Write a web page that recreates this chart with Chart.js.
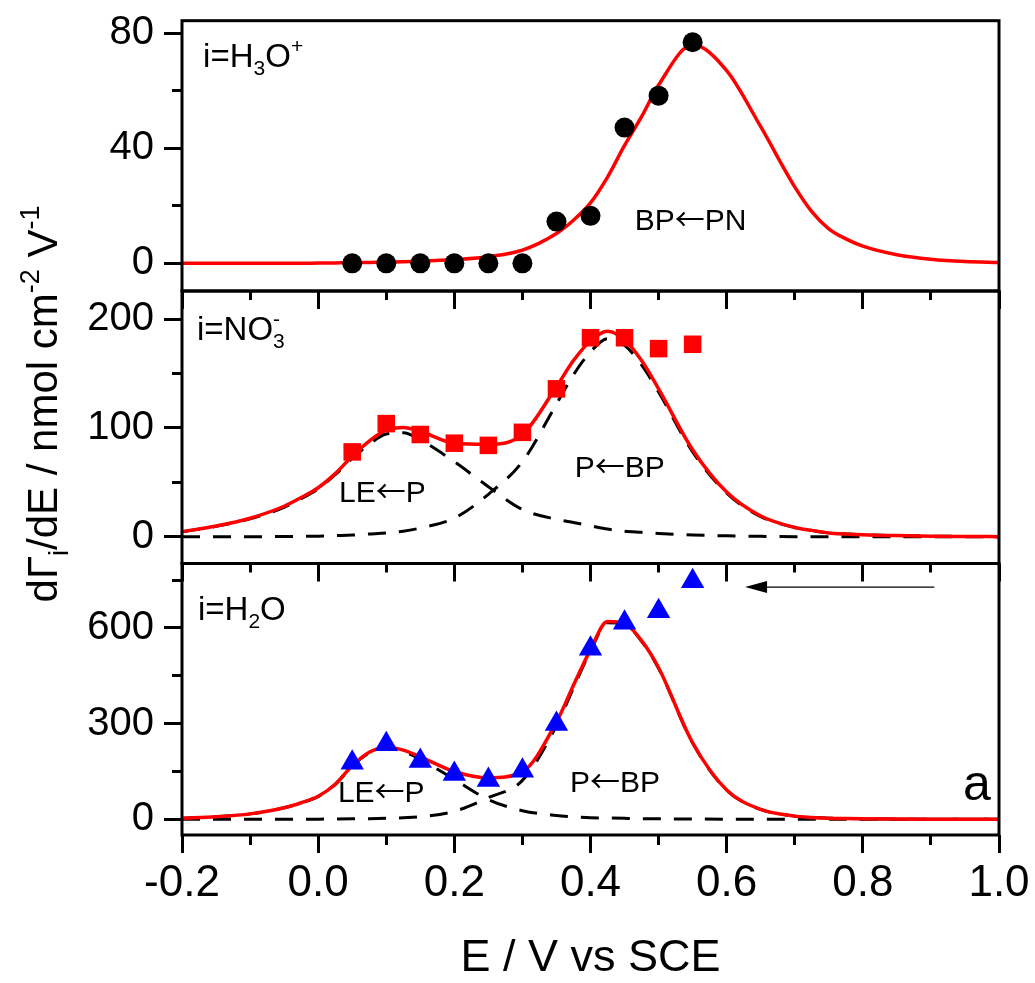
<!DOCTYPE html>
<html>
<head>
<meta charset="utf-8">
<script src="https://cdn.jsdelivr.net/npm/chart.js@4.4.1/dist/chart.umd.min.js"></script>
<style>
  body { margin: 0; background: #fff; }
  #wrap { position: relative; width: 1035px; height: 983px; }
  #wrap canvas { position: absolute; left: 0; top: 0; }
</style>
</head>
<body>
<div id="wrap">
  <canvas id="panelH3O" width="1035" height="983"></canvas>
  <canvas id="panelNO3" width="1035" height="983"></canvas>
  <canvas id="panelH2O" width="1035" height="983"></canvas>
</div>
<script>
// measured points, E / V vs SCE
const ePts   = [0.05, 0.10, 0.15, 0.20, 0.25, 0.30, 0.35, 0.40, 0.45, 0.50, 0.55];
const h3oPts = [0, 0, 0, 0, 0, 0, 14.5, 16.5, 47.2, 58.3, 76.9];
const no3Pts = [78, 104, 94, 86, 84, 96, 136, 183, 183, 173, 177];
const h2oPts = [177, 235, 183, 142, 123, 152, 299, 535, 616, 652, 746];

// fitted curves (sum = solid red, single contributions = dashed)
const eFit   = [-0.2, -0.15, -0.1, -0.05, -0.025, 0, 0.025, 0.05, 0.075, 0.1, 0.125, 0.15, 0.2, 0.25, 0.3, 0.35, 0.375, 0.4, 0.425, 0.45, 0.475, 0.5, 0.55, 0.6, 0.65, 0.7, 0.725, 0.75, 0.775, 0.8, 0.85, 0.9, 0.95, 1.0];
const h3oFit = [0, 0, 0, 0, 0, 0.1, 0.15, 0.2, 0.3, 0.4, 0.5, 0.7, 1.3, 2.3, 4.6, 10.4, 15, 21, 30, 41, 51, 62, 76, 67, 47.5, 26.6, 18, 12, 8.5, 6, 3, 1.4, 0.6, 0.3];
const no3Fit = [4.6, 9.8, 17, 28, 36, 45, 58, 74, 88, 98, 100.5, 97, 86, 85, 94, 138, 162, 180, 189, 181, 162, 136, 80, 41, 19, 8.5, 5.8, 3.5, 2.5, 1.8, 1, 0.5, 0.2, 0];
const no3LE  = [4.5, 9.5, 16.5, 27, 35, 44, 57, 72, 85, 94.5, 95.5, 89, 69, 46, 25, 16, 13, 10, 7, 5, 4, 3, 1.6, 0.8, 0.3, 0, 0, 0, 0, 0, 0, 0, 0, 0];
const no3P   = [0, 0, 0, 0.2, 0.3, 0.5, 1, 1.5, 2.5, 3.5, 5, 8, 17, 39, 69, 122, 149, 170, 182, 176, 158, 133, 78, 40, 18.5, 8.5, 5.8, 3.5, 2.5, 1.8, 1, 0.5, 0.2, 0];
const h2oFit = [3, 8, 17, 36, 52, 72, 110, 168, 210, 226, 217, 196, 150, 130, 149, 305, 420, 532, 620, 614, 560, 475, 240, 92, 31, 10, 6, 3.5, 2.2, 1.5, 0.8, 0.4, 0.2, 0];
const h2oLE  = [3, 8, 17, 36, 51, 71, 109, 166, 208, 223, 212, 188, 125, 62, 27, 12, 8, 5, 4, 3, 2, 1.5, 1, 0.5, 0.2, 0, 0, 0, 0, 0, 0, 0, 0, 0];
const h2oP   = [0, 0, 0, 0, 0.2, 0.5, 1, 1.5, 2, 3, 5, 8, 25, 68, 122, 293, 412, 527, 616, 611, 558, 473, 239, 91, 31, 10, 6, 3.5, 2.2, 1.5, 0.8, 0.4, 0.2, 0];

// axes
const xTicks      = [-0.2, -0.1, 0, 0.1, 0.2, 0.3, 0.4, 0.5, 0.6, 0.7, 0.8, 0.9, 1.0];
const xTickLabels = ['-0.2', '', '0.0', '', '0.2', '', '0.4', '', '0.6', '', '0.8', '', '1.0'];
const h3oTicks = [0, 20, 40, 60, 80];
const h3oTickLabels = ['0', '', '40', '', '80'];
const no3Ticks = [0, 50, 100, 150, 200];
const no3TickLabels = ['0', '', '100', '', '200'];
const h2oTicks = [0, 150, 300, 450, 600, 750];
const h2oTickLabels = ['0', '', '300', '', '600', ''];

const FONT = "'Liberation Sans', Arial, Helvetica, sans-serif";
const ARROW_FONT = "'Noto Sans CJK SC', 'DejaVu Sans', sans-serif";
Chart.defaults.font.family = FONT;
Chart.defaults.color = '#000';

function pts(xs, ys) {
  return xs.map((x, i) => ({x: x, y: ys[i]}));
}

function fitLine(ys, color, dash) {
  return {
    data: pts(eFit, ys), borderColor: color, borderWidth: dash ? 3 : 3.5,
    borderDash: dash || [], pointRadius: 0, fill: false,
    cubicInterpolationMode: 'monotone', order: dash ? 2 : 1
  };
}

function markers(ys, style, color, r) {
  return {
    data: pts(ePts, ys), showLine: false, pointStyle: style, pointRadius: r,
    pointBackgroundColor: color, pointBorderWidth: 0, clip: false, order: 0
  };
}

// text with sub/superscripts; part = [text, 'sub'|'sup'|'', keepX, arrowFont]
function drawRich(c, x, y, parts, size, align) {
  const small = Math.round(size * 0.65);
  const fontOf = p => (p[1] ? small : size) + 'px ' + (p[3] ? ARROW_FONT : FONT);
  c.save();
  c.fillStyle = '#000';
  c.textBaseline = 'alphabetic';
  let w = 0;
  parts.forEach(p => {
    c.font = fontOf(p);
    if (!p[2]) w += c.measureText(p[0]).width;
  });
  let cx = align === 'center' ? x - w / 2 : x;
  parts.forEach(p => {
    c.font = fontOf(p);
    const dy = p[1] === 'sub' ? size * 0.25 : (p[1] === 'sup' ? -size * 0.42 : 0);
    c.fillText(p[0], cx, y + dy);
    if (!p[2]) cx += c.measureText(p[0]).width;
  });
  c.restore();
}

function arrowLabel(left, right) {
  return [[left], ['\u2190', '', false, true], [right]];
}

const framePlugin = {
  id: 'frame',
  afterDraw(chart) {
    const a = chart.chartArea, c = chart.ctx;
    c.save();
    c.strokeStyle = '#000';
    c.lineWidth = 3;
    c.strokeRect(a.left, a.top, a.right - a.left, a.bottom - a.top);
    c.restore();
  }
};

function notesPlugin(notes, extra) {
  return {
    id: 'notes',
    afterDraw(chart) {
      const xs = chart.scales.x, ys = chart.scales.y;
      notes.forEach(n => drawRich(chart.ctx, xs.getPixelForValue(n.e), ys.getPixelForValue(n.v), n.parts, n.size));
      if (extra) extra(chart);
    }
  };
}

function yScale(min, max, values, labels) {
  return {
    type: 'linear', position: 'left', min: min, max: max,
    afterBuildTicks: s => { s.ticks = values.map(v => ({value: v})); },
    afterFit: s => { s.width = 182; s.paddingTop = 0; s.paddingBottom = 0; },
    border: {display: false},
    grid: {
      drawOnChartArea: false, drawTicks: true, tickLength: 18, lineWidth: 3,
      tickWidth: 3, tickColor: '#000',
      tickBorderDash: ctx => (ctx.index % 2 ? [0, 8, 10, 100] : [])
    },
    ticks: {
      padding: 10, autoSkip: false, font: {size: 40},
      callback: (v, i) => labels[i]
    }
  };
}

// inward tick marks along the top edge of a panel
function xTopScale() {
  return {
    type: 'linear', position: 'top', min: -0.2, max: 1.0,
    afterBuildTicks: s => { s.ticks = xTicks.map(v => ({value: v})); },
    afterFit: s => { s.height = 0; s.paddingLeft = 0; s.paddingRight = 0; },
    border: {display: false},
    grid: {
      drawOnChartArea: false, drawTicks: true, tickLength: -18, lineWidth: 3,
      tickWidth: 3, tickColor: '#000',
      tickBorderDash: ctx => (ctx.index % 2 ? [0, 9, 9, 100] : [])
    },
    ticks: {display: false}
  };
}

function baseOptions(padTop, padBottom, scales) {
  return {
    responsive: false, animation: false, events: [],
    layout: {padding: {top: padTop, bottom: padBottom, left: 0, right: 36}},
    plugins: {legend: {display: false}, tooltip: {enabled: false}},
    scales: scales
  };
}

// top panel: i = H3O+
new Chart(document.getElementById('panelH3O'), {
  type: 'line',
  data: {datasets: [
    markers(h3oPts, 'circle', '#000', 10),
    fitLine(h3oFit, '#ff0000')
  ]},
  options: baseOptions(20.7, 692, {
    x: {type: 'linear', min: -0.2, max: 1.0, display: false},
    y: yScale(-9.63, 84.38, h3oTicks, h3oTickLabels)
  }),
  plugins: [framePlugin, notesPlugin([
    {e: -0.169, v: 68.4, size: 33, parts: [['i=H'], ['3', 'sub'], ['O'], ['+', 'sup']]},
    {e: 0.465, v: 11.6, size: 30, parts: arrowLabel('BP', 'PN')}
  ])]
});

// middle panel: i = NO3-
new Chart(document.getElementById('panelNO3'), {
  type: 'line',
  data: {datasets: [
    markers(no3Pts, 'rect', '#ff0000', 12.4),
    fitLine(no3Fit, '#ff0000'),
    fitLine(no3LE, '#000', [18, 13]),
    fitLine(no3P, '#000', [18, 13])
  ]},
  options: baseOptions(291, 419.5, {
    x: xTopScale(),
    y: yScale(-24.66, 226.0, no3Ticks, no3TickLabels)
  }),
  plugins: [framePlugin, notesPlugin([
    {e: -0.178, v: 181, size: 33, parts: [['i=NO'], ['3', 'sub', true], ['-', 'sup']]},
    {e: 0.0306, v: 32.2, size: 30, parts: arrowLabel('LE', 'P')},
    {e: 0.377, v: 55.2, size: 30, parts: arrowLabel('P', 'BP')}
  ], chart => {
    // shared y-axis title for the three panels
    const c = chart.ctx;
    c.save();
    c.translate(57, 404);
    c.rotate(-Math.PI / 2);
    drawRich(c, 0, 0, [['d\u0393'], ['i', 'sub'], ['/dE / nmol cm'], ['-2', 'sup'], [' V'], ['-1', 'sup']], 42, 'center');
    c.restore();
  })]
});

// bottom panel: i = H2O
const arrowE = [0.905, 0.627];
const arrowV = 728;
new Chart(document.getElementById('panelH2O'), {
  type: 'line',
  data: {datasets: [
    markers(h2oPts, 'triangle', '#0000ff', 13.5),
    fitLine(h2oFit, '#ff0000'),
    fitLine(h2oLE, '#000', [18, 13]),
    fitLine(h2oP, '#000', [18, 13])
  ]},
  options: baseOptions(563.5, 0, {
    x: {
      type: 'linear', position: 'bottom', min: -0.2, max: 1.0,
      afterBuildTicks: s => { s.ticks = xTicks.map(v => ({value: v})); },
      afterFit: s => { s.height = 148; s.paddingLeft = 0; s.paddingRight = 0; },
      border: {display: false},
      grid: {
        drawOnChartArea: false, drawTicks: true, tickLength: 18, lineWidth: 3,
        tickWidth: 3, tickColor: '#000',
        tickBorderDash: ctx => (ctx.index % 2 ? [10, 100] : [])
      },
      ticks: {
        padding: 4, autoSkip: false, maxRotation: 0, font: {size: 44, lineHeight: 1.2},
        callback: (v, i) => xTickLabels[i]
      },
      title: {
        display: true, text: 'E / V vs SCE',
        font: {size: 45, lineHeight: 1}, padding: {top: 0, bottom: 2}
      }
    },
    xTop: xTopScale(),
    y: yScale(-49.2, 801.9, h2oTicks, h2oTickLabels)
  }),
  plugins: [framePlugin, notesPlugin([
    {e: -0.1765, v: 624.8, size: 33, parts: [['i=H'], ['2', 'sub'], ['O']]},
    {e: 0.029, v: 55.2, size: 30, parts: arrowLabel('LE', 'P')},
    {e: 0.37, v: 86.5, size: 30, parts: arrowLabel('P', 'BP')},
    {e: 0.947, v: 60.5, size: 50, parts: [['a']]}
  ], chart => {
    // scan direction arrow
    const c = chart.ctx, xs = chart.scales.x, ys = chart.scales.y;
    const x0 = xs.getPixelForValue(arrowE[0]);
    const x1 = xs.getPixelForValue(arrowE[1]);
    const y = ys.getPixelForValue(arrowV);
    c.save();
    c.strokeStyle = '#000';
    c.fillStyle = '#000';
    c.lineWidth = 1.3;
    c.beginPath();
    c.moveTo(x0, y);
    c.lineTo(x1 + 18, y);
    c.stroke();
    c.beginPath();
    c.moveTo(x1, y);
    c.lineTo(x1 + 22, y - 6);
    c.lineTo(x1 + 22, y + 6);
    c.closePath();
    c.fill();
    c.restore();
  })]
});
</script>
</body>
</html>
